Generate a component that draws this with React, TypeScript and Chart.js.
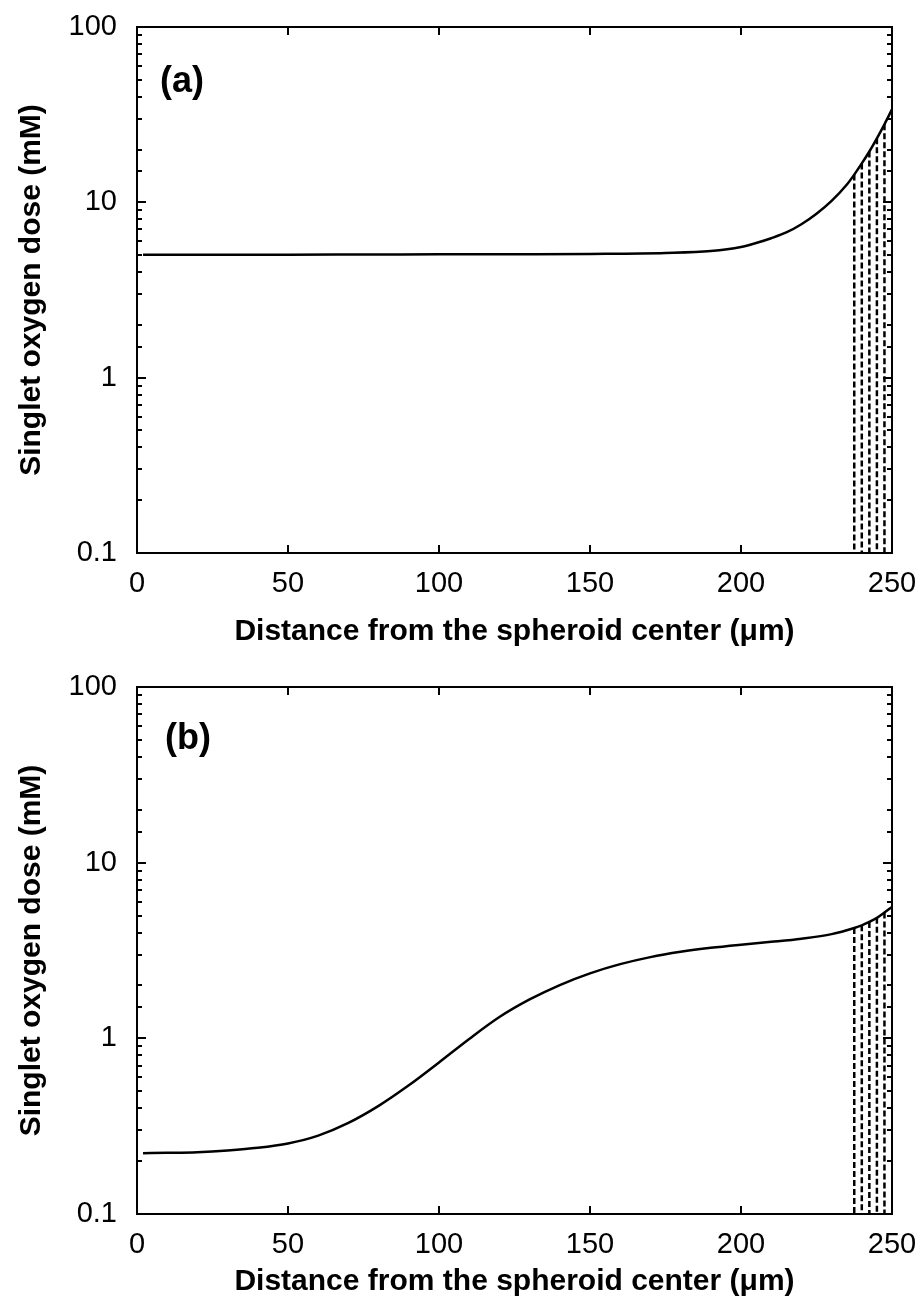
import { useEffect, useRef } from "react";
import { Chart, registerables } from "chart.js";

Chart.register(...registerables);

// Distance from the spheroid center (µm) and singlet oxygen dose (mM), panel (a)
const distanceA = [2, 25, 50, 75, 100, 125, 150, 175, 190, 200, 205, 210, 215, 220, 225, 230, 235, 237.5, 240, 242.5, 245, 247.5, 250];
const doseA = [5.02, 5.03, 5.03, 5.04, 5.05, 5.06, 5.08, 5.14, 5.27, 5.56, 5.86, 6.24, 6.73, 7.5, 8.61, 10.19, 12.59, 14.39, 16.67, 19.5, 23.17, 27.86, 33.88];

// Panel (b)
const distanceB = [2, 10, 20, 30, 40, 50, 60, 70, 80, 90, 100, 110, 120, 130, 140, 150, 160, 170, 180, 190, 200, 210, 220, 230, 237.5, 240, 242.5, 245, 247.5, 250];
const doseB = [0.222, 0.223, 0.225, 0.23, 0.238, 0.252, 0.2795, 0.33, 0.4125, 0.54, 0.7287, 0.9917, 1.322, 1.665, 2.011, 2.344, 2.644, 2.9, 3.107, 3.275, 3.414, 3.542, 3.692, 3.92, 4.25, 4.4, 4.6, 4.85, 5.2, 5.6];

// Outer shell marked with dashed vertical lines
const shellDistances = [237.5, 240, 242.5, 245, 247.5];

const xTickValues = [0, 50, 100, 150, 200, 250];
const yDecades = [0.1, 1, 10, 100];
const yTickLabels = ["0.1", "1", "10", "100"];

const xTitle = "Distance from the spheroid center (\u03bcm)";
const yTitle = "Singlet oxygen dose (mM)";
const panelLabels = ["(a)", "(b)"];

const FONT = "'Liberation Sans', Arial, Helvetica, sans-serif";
const Y_MIN = 0.1;
const Y_MAX = 100;

const isDecade = (v: number) => {
  const l = Math.log10(v);
  return Math.abs(l - Math.round(l)) < 1e-6;
};

const framePlugin = {
  id: "frame",
  afterDatasetsDraw(chart: any, _args: any, opts: any) {
    const { ctx, chartArea: a, scales } = chart;
    const xs = scales.x;
    const ys = scales.y;
    ctx.save();
    ctx.strokeStyle = "#000";
    ctx.lineWidth = 2;
    ctx.beginPath();
    for (const t of xs.ticks) {
      if (t.value <= xs.min || t.value >= xs.max) continue;
      const px = Math.round(xs.getPixelForValue(t.value));
      ctx.moveTo(px, a.bottom);
      ctx.lineTo(px, a.bottom - 8);
      ctx.moveTo(px, a.top);
      ctx.lineTo(px, a.top + 8);
    }
    for (const t of ys.ticks) {
      if (t.value <= ys.min || t.value >= ys.max) continue;
      const py = Math.round(ys.getPixelForValue(t.value));
      const len = isDecade(t.value) ? 9 : 5;
      ctx.moveTo(a.left, py);
      ctx.lineTo(a.left + len, py);
      ctx.moveTo(a.right, py);
      ctx.lineTo(a.right - len, py);
    }
    ctx.stroke();
    ctx.strokeRect(a.left, a.top, a.right - a.left, a.bottom - a.top);

    ctx.fillStyle = "#000";
    ctx.font = `bold 36px ${FONT}`;
    ctx.textBaseline = "middle";
    ctx.textAlign = "left";
    ctx.fillText(opts.label, a.left + opts.dx, a.top + opts.dy);
    ctx.restore();
  },
};

type PanelProps = {
  distance: number[];
  dose: number[];
  label: string;
  height: number;
  xAxisHeight: number;
  xTitlePad: number;
  labelDx: number;
  labelDy: number;
};

function Panel({ distance, dose, label, height, xAxisHeight, xTitlePad, labelDx, labelDy }: PanelProps) {
  const ref = useRef<HTMLCanvasElement>(null);

  useEffect(() => {
    const curve = {
      data: distance.map((x, i) => ({ x, y: dose[i] })),
      borderColor: "#000",
      borderWidth: 2.5,
      pointRadius: 0,
      cubicInterpolationMode: "monotone" as const,
      fill: false,
    };
    const shell = shellDistances.map((sx) => {
      const i = distance.indexOf(sx);
      return {
        data: [
          { x: sx, y: dose[i] },
          { x: sx, y: Y_MIN },
        ],
        borderColor: "#000",
        borderWidth: 2.5,
        borderDash: [6, 3],
        pointRadius: 0,
        fill: false,
      };
    });

    const tickFont = { family: FONT, size: 29 };
    const titleFont = { family: FONT, size: 30, weight: "bold" as const };

    const chart = new Chart(ref.current!, {
      type: "line",
      data: { datasets: [curve, ...shell] as any },
      options: {
        animation: false,
        responsive: false,
        devicePixelRatio: 1,
        layout: { padding: { top: 27, right: 32, left: 0, bottom: 0 } },
        plugins: {
          legend: { display: false },
          tooltip: { enabled: false },
          frame: { label, dx: labelDx, dy: labelDy },
        } as any,
        scales: {
          x: {
            type: "linear",
            min: 0,
            max: 250,
            afterBuildTicks: (s: any) => {
              s.ticks = xTickValues.map((value) => ({ value }));
            },
            afterFit: (s: any) => {
              s.height = xAxisHeight;
              s.paddingLeft = 0;
              s.paddingRight = 0;
            },
            ticks: {
              autoSkip: false,
              maxRotation: 0,
              padding: 14,
              color: "#000",
              font: tickFont,
              callback: (v: any) => String(v),
            },
            grid: { display: false, drawTicks: false },
            border: { display: false },
            title: {
              display: true,
              text: xTitle,
              color: "#000",
              font: titleFont,
              padding: { top: 0, bottom: xTitlePad },
            },
          },
          y: {
            type: "logarithmic",
            min: Y_MIN,
            max: Y_MAX,
            afterFit: (s: any) => {
              s.width = 137;
              s.paddingTop = 0;
              s.paddingBottom = 0;
            },
            ticks: {
              autoSkip: false,
              padding: 20,
              color: "#000",
              font: tickFont,
              callback: (v: any) => {
                const idx = yDecades.findIndex((d) => Math.abs(Math.log10(d) - Math.log10(Number(v))) < 1e-6);
                return idx >= 0 ? yTickLabels[idx] : "";
              },
            },
            grid: { display: false, drawTicks: false },
            border: { display: false },
            title: {
              display: true,
              text: yTitle,
              color: "#000",
              font: titleFont,
              padding: { top: 14, bottom: 0 },
            },
          },
        },
      },
      plugins: [framePlugin],
    });
    return () => chart.destroy();
  }, [distance, dose, label, xAxisHeight, xTitlePad, labelDx, labelDy]);

  return <canvas ref={ref} width={924} height={height} style={{ display: "block", width: 924, height }} />;
}

export default function App() {
  return (
    <div style={{ position: "absolute", left: 0, top: 0, width: 924, height: 1308, background: "#fff" }}>
      <div style={{ position: "absolute", left: 0, top: 0 }}>
        <Panel distance={distanceA} dose={doseA} label={panelLabels[0]} height={654} xAxisHeight={101} xTitlePad={4} labelDx={23} labelDy={55} />
      </div>
      <div style={{ position: "absolute", left: 0, top: 660 }}>
        <Panel distance={distanceB} dose={doseB} label={panelLabels[1]} height={648} xAxisHeight={94} xTitlePad={8} labelDx={28} labelDy={52} />
      </div>
    </div>
  );
}
